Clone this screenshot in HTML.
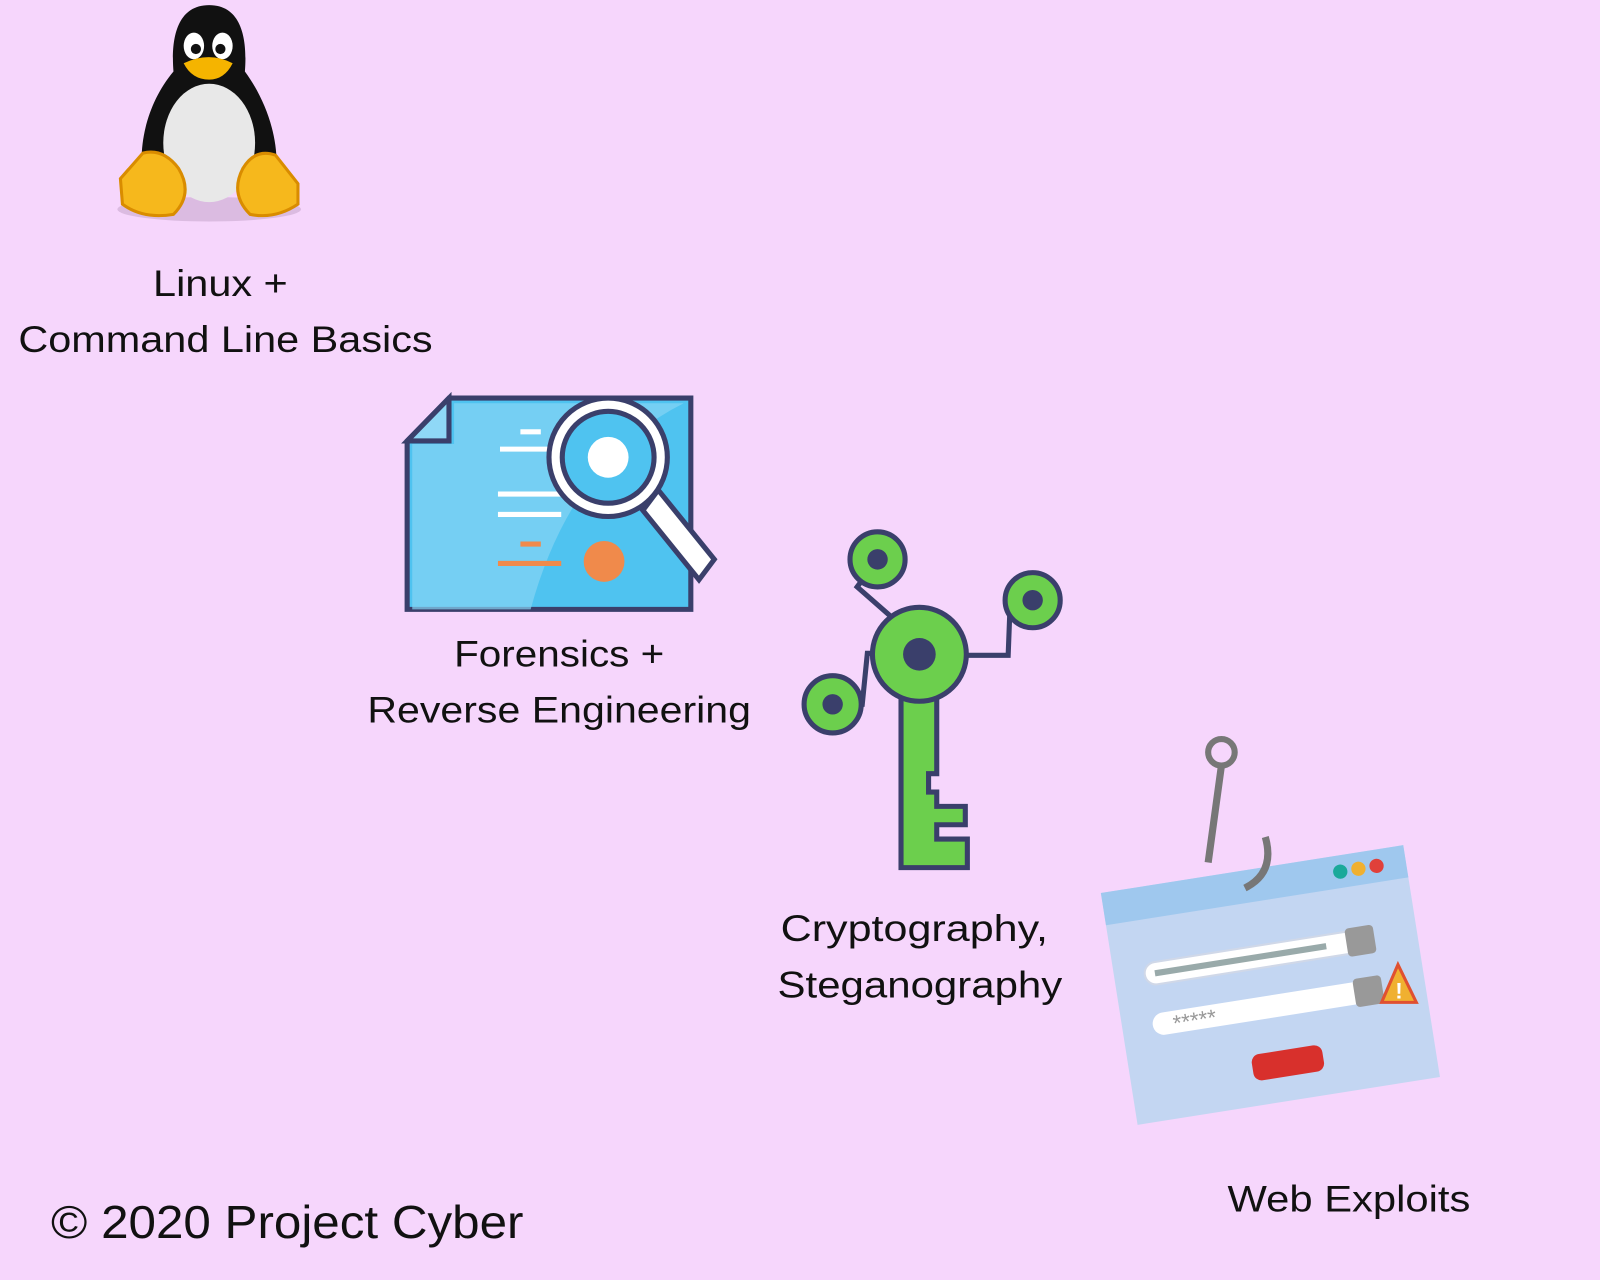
<!DOCTYPE html>
<html><head><meta charset="utf-8"><style>
html,body{margin:0;padding:0;background:#f6d6fc;}
svg{display:block}
text{font-family:"Liberation Sans",sans-serif;fill:#111;}
</style></head><body>
<svg width="1600" height="1280" viewBox="0 0 1568 1254" preserveAspectRatio="none" xmlns="http://www.w3.org/2000/svg">
<rect width="1568" height="1254" fill="#f6d6fc"/>
<!-- Penguin -->
<ellipse cx="205" cy="205" rx="90" ry="12" fill="#c9a8cf" opacity="0.6"/>
<path d="M205 5 C170 5 168 45 170 70 C145 100 135 140 140 175 L270 175 C275 140 262 100 240 70 C242 45 240 5 205 5 Z" fill="#111"/>
<ellipse cx="205" cy="140" rx="45" ry="58" fill="#e8e8e8"/>
<ellipse cx="190" cy="45" rx="10" ry="13" fill="#fff"/><ellipse cx="218" cy="45" rx="10" ry="13" fill="#fff"/>
<circle cx="192" cy="48" r="5" fill="#111"/><circle cx="216" cy="48" r="5" fill="#111"/>
<path d="M180 62 Q205 50 228 62 Q220 78 205 78 Q188 78 180 62 Z" fill="#f5b400"/>
<path d="M118 175 L140 150 Q160 145 175 165 Q190 190 170 210 Q140 215 120 200 Z" fill="#f6b81c" stroke="#d98c00" stroke-width="3"/>
<path d="M292 180 L270 152 Q250 145 238 165 Q225 190 245 210 Q270 215 292 200 Z" fill="#f6b81c" stroke="#d98c00" stroke-width="3"/>
<text x="150" y="290" font-size="36" textLength="132" lengthAdjust="spacingAndGlyphs">Linux +</text>
<text x="18" y="345" font-size="36" textLength="406" lengthAdjust="spacingAndGlyphs">Command Line Basics</text>
<!-- Forensics -->
<path d="M440 390 L677 390 L677 597 L399 597 L399 432 Z" fill="#4fc3f0" stroke="#3a3f6b" stroke-width="5"/>
<path d="M440 390 L440 432 L399 432 Z" fill="#8fd8f6" stroke="#3a3f6b" stroke-width="5"/>
<path d="M445 395 L670 395 Q560 450 520 597 L404 597 L404 435 L445 435 Z" fill="#86d4f4" opacity="0.7"/>
<g stroke="#fff" stroke-width="5"><line x1="510" y1="423" x2="530" y2="423"/><line x1="490" y1="440" x2="540" y2="440"/><line x1="488" y1="484" x2="550" y2="484"/><line x1="488" y1="504" x2="550" y2="504"/></g>
<g stroke="#f08a4b" stroke-width="5"><line x1="510" y1="533" x2="530" y2="533"/><line x1="488" y1="552" x2="550" y2="552"/></g>
<circle cx="592" cy="550" r="20" fill="#f08a4b"/>
<path d="M645 480 L700 548 L685 568 L630 500 Z" fill="#fff" stroke="#3a3f6b" stroke-width="5"/>
<circle cx="596" cy="448" r="58" fill="#fff" stroke="#3a3f6b" stroke-width="5"/>
<circle cx="596" cy="448" r="45" fill="#4fc3f0" stroke="#3a3f6b" stroke-width="5"/>
<circle cx="596" cy="448" r="20" fill="#fff"/>
<text x="445" y="653" font-size="36" textLength="206" lengthAdjust="spacingAndGlyphs">Forensics +</text>
<text x="360" y="708" font-size="36" textLength="376" lengthAdjust="spacingAndGlyphs">Reverse Engineering</text>
<!-- Key -->
<g stroke="#3a3f6b" stroke-width="5" fill="none">
<polyline points="860,548 840,575 880,610"/>
<polyline points="1012,588 990,590 988,642 940,642"/>
<polyline points="816,690 845,690 850,640 870,640"/>
</g>
<circle cx="860" cy="548" r="27" fill="#6ccf4d" stroke="#3a3f6b" stroke-width="5"/><circle cx="860" cy="548" r="10" fill="#3a3f6b"/>
<circle cx="1012" cy="588" r="27" fill="#6ccf4d" stroke="#3a3f6b" stroke-width="5"/><circle cx="1012" cy="588" r="10" fill="#3a3f6b"/>
<circle cx="816" cy="690" r="28" fill="#6ccf4d" stroke="#3a3f6b" stroke-width="5"/><circle cx="816" cy="690" r="10" fill="#3a3f6b"/>
<path d="M883 680 L883 850 L948 850 L948 822 L918 822 L918 808 L946 808 L946 790 L918 790 L918 776 L910 776 L910 758 L918 758 L918 680 Z" fill="#6ccf4d" stroke="#3a3f6b" stroke-width="5"/>
<circle cx="901" cy="641" r="46" fill="#6ccf4d" stroke="#3a3f6b" stroke-width="5"/>
<circle cx="901" cy="641" r="16" fill="#3a3f6b"/>
<text x="765" y="922" font-size="36" textLength="262" lengthAdjust="spacingAndGlyphs">Cryptography,</text>
<text x="762" y="977" font-size="36" textLength="279" lengthAdjust="spacingAndGlyphs">Steganography</text>
<!-- Web exploit -->
<g transform="rotate(-9 1245 965)">
<rect x="1095" y="850" width="300" height="230" fill="#c3d6f2"/>
<rect x="1095" y="850" width="300" height="32" fill="#9fc8ee"/>
<circle cx="1330" cy="866" r="7" fill="#1aa99a"/><circle cx="1348" cy="866" r="7" fill="#f0b030"/><circle cx="1366" cy="866" r="7" fill="#e0403a"/>
<rect x="1125" y="925" width="220" height="22" rx="11" fill="#fff" stroke="#d0d8e8" stroke-width="2"/>
<rect x="1135" y="933" width="170" height="6" fill="#9aa"/>
<rect x="1325" y="922" width="28" height="28" rx="4" fill="#999"/>
<rect x="1125" y="975" width="220" height="22" rx="11" fill="#fff"/>
<text x="1145" y="995" font-size="22" style="fill:#999">*****</text>
<rect x="1325" y="972" width="28" height="28" rx="4" fill="#999"/>
<rect x="1215" y="1030" width="70" height="26" rx="8" fill="#d8302c"/>
</g>
<path d="M1370 945 L1388 982 L1354 982 Z" fill="#f0b030" stroke="#e05030" stroke-width="3"/>
<text x="1371" y="978" font-size="22" text-anchor="middle" style="fill:#fff;font-weight:bold">!</text>
<circle cx="1197" cy="737" r="13" fill="none" stroke="#777" stroke-width="6"/>
<path d="M1197 750 L1184 845 M1240 820 Q1250 855 1220 870" fill="none" stroke="#777" stroke-width="7"/>
<text x="1203" y="1187" font-size="36" textLength="238" lengthAdjust="spacingAndGlyphs">Web Exploits</text>
<text x="50" y="1213" font-size="45" textLength="463" lengthAdjust="spacingAndGlyphs">© 2020 Project Cyber</text>
</svg>
</body></html>
